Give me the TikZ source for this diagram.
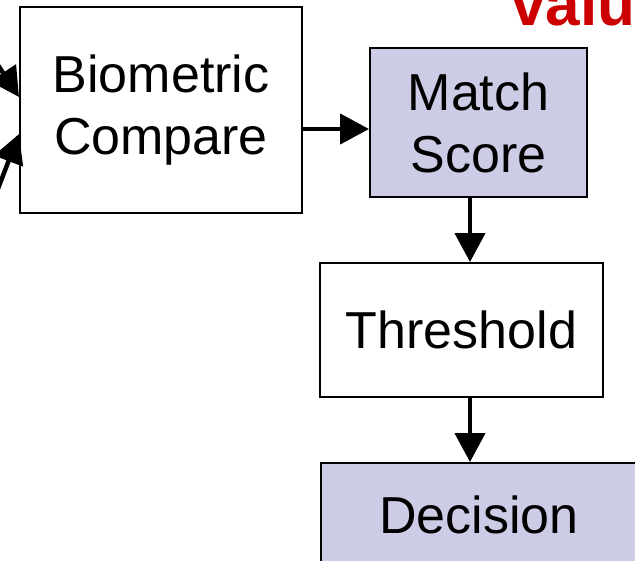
\documentclass[tikz,border=0pt]{standalone}
\usepackage{fontspec}
\setmainfont{Liberation Sans}
\usetikzlibrary{arrows.meta}
\definecolor{boxfill}{RGB}{204,204,230}
\definecolor{titlered}{RGB}{204,0,0}

\begin{document}
\begin{tikzpicture}[x=1pt,y=-1pt,
  stage/.style={draw=black, line width=2pt, align=center, inner sep=0pt,
                font=\fontsize{52}{62}\selectfont},
  shaded/.style={stage, fill=boxfill},
  flow/.style={line width=4.5pt, -{Triangle[length=29pt,width=30pt]}}]
\useasboundingbox (0,0) rectangle (635,560);
\clip (0,0) rectangle (635,560);

% process boxes
\node[stage, minimum width=282pt, minimum height=206pt] (compare) at (161,110) {Biometric\\Compare};
\node[shaded, minimum width=217pt, minimum height=149pt] (score) at (478.5,122.5) {Match\\Score};
\node[stage, minimum width=283pt, minimum height=134pt] (threshold) at (461.5,330) {Threshold};
\node[shaded, minimum width=316pt, minimum height=104pt] (decision) at (479,515) {Decision};

% heading running off the top edge
\node[anchor=base west, text=titlered, inner sep=0pt,
      font=\fontsize{62}{62}\selectfont\bfseries] (heading) at (511,25) {valu};

% incoming feeds from the left
\coordinate (feedA) at (-14,47);
\coordinate (feedB) at (-6,199);
\draw[flow] (feedA) -- (compare.west |- 0,97);
\draw[flow] (feedB) -- (compare.west |- 0,134);

% main flow
\draw[flow] (compare.east |- 0,129) -- (score.west |- 0,129);
\draw[flow] (score.south -| 470,0) -- (threshold.north -| 470,0);
\draw[flow] (threshold.south -| 470,0) -- (decision.north -| 470,0);
\end{tikzpicture}
\end{document}
